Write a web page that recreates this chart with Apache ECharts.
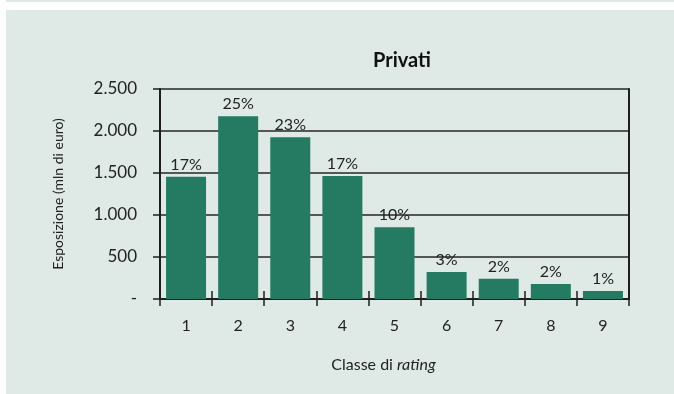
<!DOCTYPE html>
<html>
<head>
<meta charset="utf-8">
<script src="https://cdn.jsdelivr.net/npm/echarts@6/dist/echarts.min.js"></script>
<style>
  html, body { margin: 0; padding: 0; background: #ffffff; }
  #top-strip { position: absolute; left: 6px; top: 0; width: 668px; height: 2px; background: #dfeae7; }
  #panel { position: absolute; left: 6px; top: 10px; width: 668px; height: 384px; background: #dfeae7; }
  #chart { position: absolute; left: 0; top: 0; width: 674px; height: 394px; }
</style>
</head>
<body>
<div id="top-strip"></div>
<div id="panel"></div>
<div id="chart"></div>
<script>
// Rating classes and exposure (mln di euro) for private customers
const categories = ['1', '2', '3', '4', '5', '6', '7', '8', '9'];
const exposure = [1455, 2175, 1925, 1465, 855, 320, 240, 180, 95];
const shareLabels = ['17%', '25%', '23%', '17%', '10%', '3%', '2%', '2%', '1%'];
const yTicks = [0, 500, 1000, 1500, 2000, 2500];

const FONT = 'Lato, "Noto Sans", sans-serif';
const INK = '#1e1e1e';

function fmtThousands(v) {
  if (v === 0) return '-';
  return String(v).replace(/\B(?=(\d{3})+(?!\d))/g, '.');
}

const chart = echarts.init(document.getElementById('chart'), null, { renderer: 'canvas' });

chart.setOption({
  backgroundColor: 'transparent',
  animation: false,
  title: {
    text: 'Privati',
    left: 397,
    top: 46,
    textAlign: 'center',
    textStyle: { fontFamily: FONT, fontSize: 20, fontWeight: 'bold', color: '#111' }
  },
  grid: { left: 160, right: 45, top: 89, bottom: 95 },
  xAxis: [
    {
      type: 'category',
      data: categories,
      boundaryGap: true,
      axisLine: { show: true, lineStyle: { color: INK, width: 2 } },
      axisTick: { show: true, inside: false, length: 7, lineStyle: { color: INK, width: 1.5 } },
      axisLabel: { margin: 19, fontFamily: FONT, fontSize: 16, color: '#222' },
      name: '{a|Classe di }{b|rating}',
      nameLocation: 'middle',
      nameGap: 58,
      nameTextStyle: {
        padding: [0, 22, 0, 0],
        rich: {
          a: { fontFamily: FONT, fontSize: 16, color: '#222' },
          b: { fontFamily: FONT, fontSize: 16, color: '#222', fontStyle: 'italic' }
        }
      }
    },
    {
      // upward half of the crossing tick marks
      type: 'category',
      data: categories,
      position: 'bottom',
      boundaryGap: true,
      axisLine: { show: false },
      axisTick: { show: true, inside: true, length: 8, lineStyle: { color: INK, width: 1.5 } },
      axisLabel: { show: false }
    }
  ],
  yAxis: [
    {
      type: 'value',
      min: yTicks[0],
      max: yTicks[yTicks.length - 1],
      interval: 500,
      axisLine: { show: true, lineStyle: { color: INK, width: 2 } },
      axisTick: { show: true, inside: false, length: 7, lineStyle: { color: INK, width: 1.5 } },
      splitLine: { show: true, lineStyle: { color: '#262626', width: 1.5 } },
      axisLabel: {
        margin: 23,
        fontFamily: FONT,
        fontSize: 17,
        color: '#222',
        formatter: fmtThousands
      },
      name: 'Esposizione (mln di euro)',
      nameLocation: 'middle',
      nameGap: 95,
      nameTextStyle: { fontFamily: FONT, fontSize: 14, color: '#222' }
    },
    {
      // right frame line
      type: 'value',
      position: 'right',
      min: yTicks[0],
      max: yTicks[yTicks.length - 1],
      interval: 500,
      axisLine: { show: true, lineStyle: { color: INK, width: 2 } },
      axisTick: { show: false },
      axisLabel: { show: false },
      splitLine: { show: false }
    }
  ],
  series: [
    {
      type: 'bar',
      data: exposure,
      barWidth: 40,
      itemStyle: { color: '#257a62' },
      label: {
        show: true,
        position: 'top',
        distance: 4,
        fontFamily: FONT,
        fontSize: 16,
        color: '#222',
        formatter: (p) => shareLabels[p.dataIndex]
      }
    }
  ]
});
</script>
</body>
</html>
